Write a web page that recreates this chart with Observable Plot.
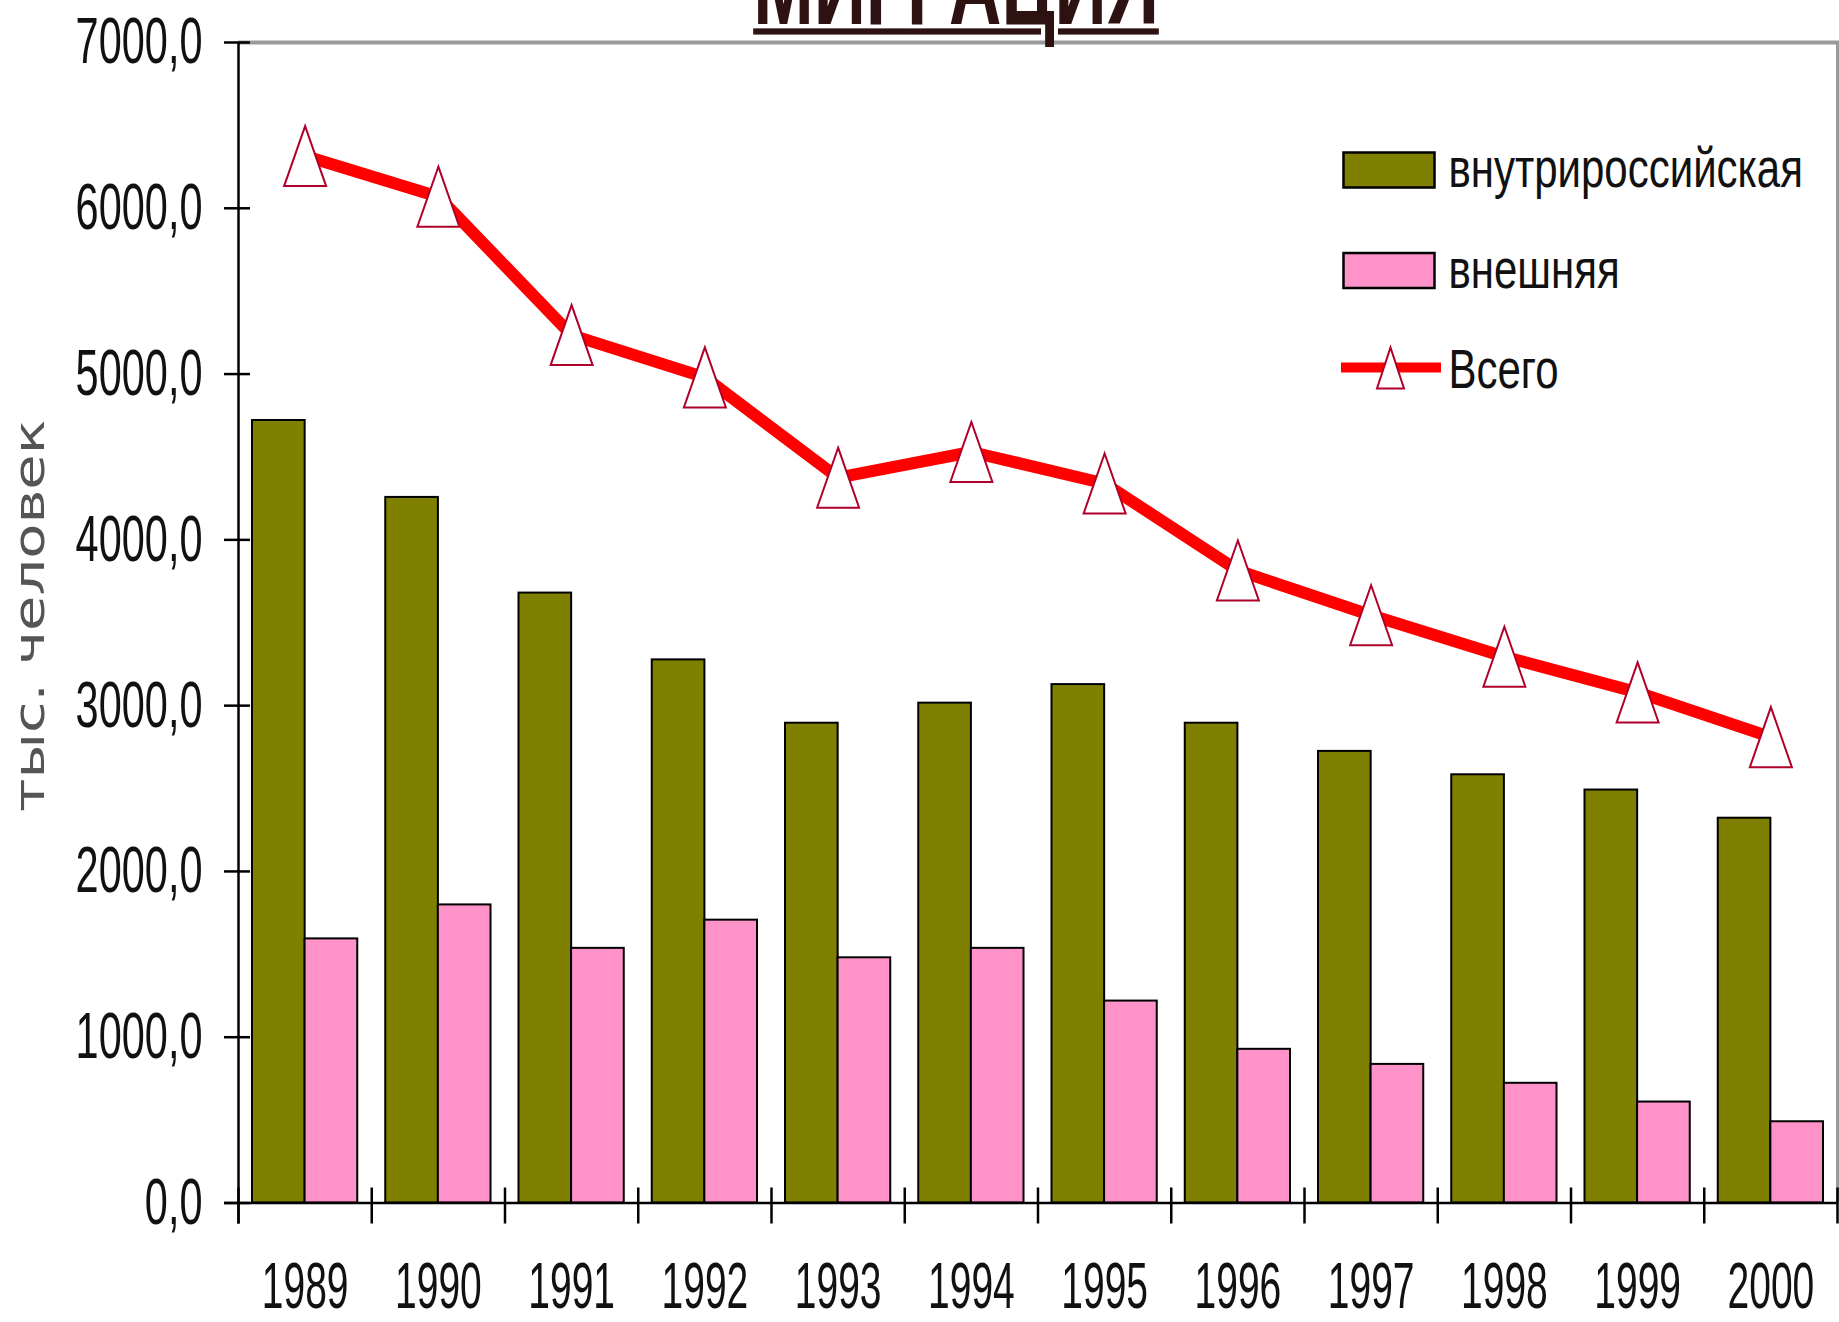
<!DOCTYPE html>
<html>
<head>
<meta charset="utf-8">
<script src="https://cdn.jsdelivr.net/npm/d3@7"></script>
<script src="https://cdn.jsdelivr.net/npm/@observablehq/plot@0.6"></script>
<style>
  html, body { margin: 0; padding: 0; background: white; overflow: hidden; }
  #wrap { position: relative; width: 1839px; height: 1322px; }
  #title {
    position: absolute; left: 0; top: -37.5px; width: 1912px; text-align: center;
    font: bold 72.6px/1 'Liberation Sans', Arial, sans-serif; color: #2e1212;
    transform: scaleY(1.55); transform-origin: 50% 61.5px;
    text-decoration: underline; text-decoration-thickness: 4px; text-underline-offset: 3px;
    white-space: nowrap;
  }
</style>
</head>
<body>
<div id="wrap">
  <div id="chart"></div>
  <div id="title">МИГРАЦИЯ</div>
</div>
<script>
// ---- data (тыс. человек) ----
const years = ["1989","1990","1991","1992","1993","1994","1995","1996","1997","1998","1999","2000"];
const inner = [4720, 4256, 3679, 3276, 2894, 3015, 3127, 2894, 2724, 2583, 2491, 2321]; // внутрироссийская
const external = [1593, 1798, 1536, 1706, 1479, 1536, 1218, 927, 836, 722, 609, 490]; // внешняя
const total = [6315, 6070, 5235, 4980, 4375, 4530, 4340, 3815, 3545, 3295, 3080, 2810]; // Всего
const yTicks = [0, 1000, 2000, 3000, 4000, 5000, 6000, 7000];
const seriesNames = ["внутрироссийская", "внешняя", "Всего"];
const yTitle = "тыс. человек";

const colInner = "#808000", colExt = "#ff93c9", colTotal = "#ff0000", colMarker = "#b0002a";
const N = years.length;
const yMax = yTicks[yTicks.length - 1];
const xTickPos = d3.range(N + 1);
const fmt = d => d.toFixed(1).replace(".", ",");

const bigTri = {draw(ctx) { ctx.moveTo(0, -30); ctx.lineTo(21, 30); ctx.lineTo(-21, 30); ctx.closePath(); }};
const smallTri = {draw(ctx) { ctx.moveTo(0, -20.5); ctx.lineTo(13.5, 20.5); ctx.lineTo(-13.5, 20.5); ctx.closePath(); }};
const swatch = {draw(ctx) { ctx.rect(-45.5, -17.5, 91, 35); }};
const hLine = {draw(ctx) { ctx.moveTo(-50, 0); ctx.lineTo(50, 0); }};

const chart = Plot.plot({
  width: 1839, height: 1322,
  marginLeft: 238, marginRight: 2, marginTop: 42, marginBottom: 119.5,
  x: {type: "linear", domain: [0, N], axis: null},
  y: {domain: [0, yMax], axis: null},
  style: {background: "white", fontFamily: "'Liberation Sans', Arial, sans-serif", overflow: "visible", color: "black"},
  marks: [
    // plot area border (top, right)
    Plot.ruleY([yMax], {x1: 0, x2: N, stroke: "#9a9a9a", strokeWidth: 4, insetRight: -2}),
    Plot.ruleX([N], {y1: yMax, y2: 0, stroke: "#9a9a9a", strokeWidth: 3}),
    // bars
    Plot.rect(years, {x1: (d, i) => i, x2: (d, i) => i + 1, y1: 0, y2: (d, i) => inner[i],
      fill: colInner, stroke: "#000", strokeWidth: 2, insetLeft: 14, insetRight: 66.6}),
    Plot.rect(years, {x1: (d, i) => i, x2: (d, i) => i + 1, y1: 0, y2: (d, i) => external[i],
      fill: colExt, stroke: "#000", strokeWidth: 2, insetLeft: 66.6, insetRight: 14}),
    // axes lines
    Plot.ruleY([0], {x1: 0, x2: N, stroke: "#000", strokeWidth: 2.5, insetLeft: -14}),
    Plot.ruleX([0], {y1: yMax, y2: 0, stroke: "#000", strokeWidth: 2.5, insetBottom: -21}),
    Plot.ruleX(xTickPos, {y1: 0, y2: 0, insetTop: -15, insetBottom: -21, stroke: "#000", strokeWidth: 2.5}),
    Plot.ruleY(yTicks, {x1: 0, x2: 0, insetLeft: -14, insetRight: -12, stroke: "#000", strokeWidth: 2.5}),
    // total line with markers
    Plot.line(years, {x: (d, i) => i + 0.5, y: (d, i) => total[i], stroke: colTotal, strokeWidth: 12, strokeLinejoin: "round"}),
    Plot.dot(years, {x: (d, i) => i + 0.5, y: (d, i) => total[i], symbol: bigTri, fill: "white", stroke: colMarker, strokeWidth: 2}),
    // tick labels
    Plot.text(yTicks, {y: d => d, text: fmt, frameAnchor: "left", textAnchor: "end", lineAnchor: "middle", dx: -36, fontSize: 41.5, fill: "#111"}),
    Plot.text(years, {x: (d, i) => i + 0.5, text: d => d, frameAnchor: "bottom", textAnchor: "middle", lineAnchor: "middle", dy: 84.5, fontSize: 39, fill: "#111"}),
    Plot.text([yTitle], {text: d => d, frameAnchor: "left", textAnchor: "middle", lineAnchor: "middle", rotate: -90, dx: -208, dy: -7, fontSize: 42, fill: "#555", fontFamily: "'DejaVu Sans', Verdana, sans-serif"}),
    // legend
    Plot.dot([seriesNames[0]], {frameAnchor: "top-left", dx: 1150.5, dy: 127.5, symbol: swatch, fill: colInner, stroke: "#000", strokeWidth: 2.5}),
    Plot.dot([seriesNames[1]], {frameAnchor: "top-left", dx: 1150.5, dy: 228, symbol: swatch, fill: colExt, stroke: "#000", strokeWidth: 2.5}),
    Plot.dot([seriesNames[2]], {frameAnchor: "top-left", dx: 1152.5, dy: 325, symbol: hLine, fill: "none", stroke: colTotal, strokeWidth: 10}),
    Plot.dot([seriesNames[2]], {frameAnchor: "top-left", dx: 1152, dy: 325.5, symbol: smallTri, fill: "white", stroke: colMarker, strokeWidth: 2}),
    Plot.text([seriesNames[0]], {text: d => d, frameAnchor: "top-left", textAnchor: "start", lineAnchor: "middle", dx: 1210, dy: 127.5, fontSize: 42, fill: "#111"}),
    Plot.text([seriesNames[1]], {text: d => d, frameAnchor: "top-left", textAnchor: "start", lineAnchor: "middle", dx: 1210, dy: 228.5, fontSize: 42, fill: "#111"}),
    Plot.text([seriesNames[2]], {text: d => d, frameAnchor: "top-left", textAnchor: "start", lineAnchor: "middle", dx: 1210, dy: 328.5, fontSize: 42, fill: "#111"})
  ]
});

// vertical stretch of the text (the reference is drawn with tall, narrow lettering)
function stretch(g, k) {
  g.querySelectorAll("text").forEach(t => {
    const tr = t.getAttribute("transform");
    if (tr) {
      const m = tr.match(/^(translate\([^)]*\))(.*)$/);
      if (m) t.setAttribute("transform", `${m[1]} scale(1,${k})${m[2]}`);
      else t.setAttribute("transform", `scale(1,${k}) ${tr}`);
    } else {
      const x = +(t.getAttribute("x") || 0), y = +(t.getAttribute("y") || 0);
      t.setAttribute("transform", `translate(${x},${y}) scale(1,${k}) translate(${-x},${-y})`);
    }
  });
}
const textGroups = chart.querySelectorAll('g[aria-label="text"]');
const factors = [1.58, 1.68, 1.37, 1.3, 1.3, 1.3];
textGroups.forEach((g, i) => stretch(g, factors[i] ?? 1.3));

document.getElementById("chart").appendChild(chart);
</script>
</body>
</html>
